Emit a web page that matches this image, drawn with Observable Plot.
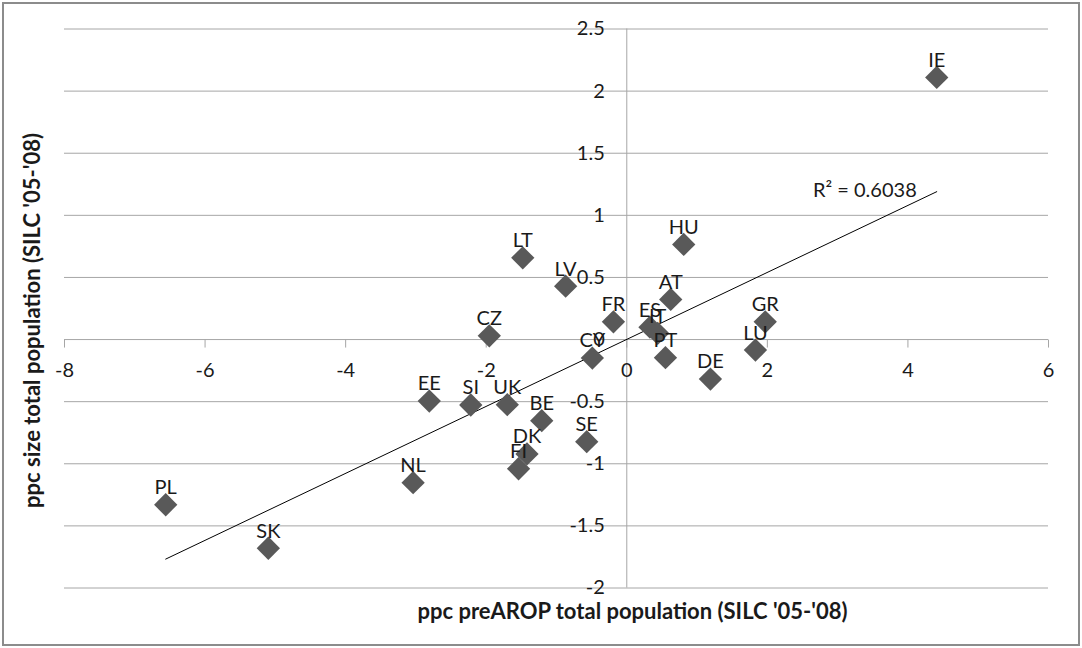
<!DOCTYPE html>
<html>
<head>
<meta charset="utf-8">
<script src="https://cdn.jsdelivr.net/npm/d3@7"></script>
<script src="https://cdn.jsdelivr.net/npm/@observablehq/plot@0.6"></script>
<style>
  html, body { margin: 0; padding: 0; background: #fff; }
  #chart svg { display: block; }
</style>
</head>
<body>
<div id="chart"></div>
<script>
const countries = ["IE","HU","LT","LV","AT","FR","CZ","ES","IT","GR","LU","PT","DE","CY","EE","SI","UK","BE","SE","DK","FI","NL","PL","SK"];
const xValues = [4.41, 0.81, -1.48, -0.87, 0.625, -0.19, -1.956, 0.33, 0.44, 1.97, 1.83, 0.55, 1.19, -0.49, -2.81, -2.22, -1.70, -1.21, -0.57, -1.42, -1.54, -3.04, -6.56, -5.10];
const yValues = [2.11, 0.766, 0.658, 0.43, 0.323, 0.143, 0.03, 0.10, 0.05, 0.143, -0.085, -0.146, -0.318, -0.149, -0.495, -0.527, -0.524, -0.653, -0.822, -0.921, -1.04, -1.152, -1.33, -1.68];
const xTicks = [-8, -6, -4, -2, 0, 2, 4, 6];
const yTicks = [-2, -1.5, -1, -0.5, 0, 0.5, 1, 1.5, 2, 2.5];
const xTitle = "ppc preAROP total population (SILC '05-'08)";
const yTitle = "ppc size total population (SILC '05-'08)";
const r2Label = "R² = 0.6038";

const data = countries.map((c, i) => ({c, x: xValues[i], y: yValues[i]}));

// least squares fit (for label placement)
const mx = d3.mean(data, d => d.x), my = d3.mean(data, d => d.y);
const slope = d3.sum(data, d => (d.x - mx) * (d.y - my)) / d3.sum(data, d => (d.x - mx) ** 2);
const intercept = my - slope * mx;
const xEnd = d3.max(data, d => d.x);
const labelPos = [{x: xEnd, y: intercept + slope * xEnd, t: r2Label}];

const tickSymbol = {draw(ctx) { ctx.moveTo(0, 0); ctx.lineTo(0, 8); }};
const gridColor = "#a6a6a6";
const textColor = "#1a1a1a";
const font = "Lato, Carlito, Calibri, sans-serif";
const fs = 20;

const chart = Plot.plot({
  width: 1082,
  height: 648,
  marginLeft: 64,
  marginRight: 34,
  marginTop: 28.5,
  marginBottom: 60.5,
  x: {domain: [d3.min(xTicks), d3.max(xTicks)], axis: null},
  y: {domain: [d3.min(yTicks), d3.max(yTicks)], axis: null},
  style: {fontFamily: font, background: "#fff", outline: "2px solid #8c8c8c", outlineOffset: "-4px"},
  marks: [
    Plot.ruleY(yTicks, {y: d => d, x1: d3.min(xTicks), x2: d3.max(xTicks), stroke: gridColor, strokeWidth: 1}),
    Plot.ruleX([0], {x: d => d, y1: d3.min(yTicks), y2: d3.max(yTicks), stroke: gridColor, strokeWidth: 1}),
    Plot.dot(xTicks, {x: d => d, y: 0, symbol: tickSymbol, fill: "none", stroke: gridColor, strokeWidth: 1}),
    Plot.text(xTicks, {x: d => d, y: 0, dy: 31, text: d => String(d), fontSize: fs, fill: textColor}),
    Plot.text(yTicks, {x: 0, y: d => d, dx: -22, textAnchor: "end", text: d => String(d), fontSize: fs, fill: textColor}),
    Plot.linearRegressionY(data, {x: "x", y: "y", stroke: "#000", strokeWidth: 1, ci: 0}),
    Plot.dot(data, {x: "x", y: "y", symbol: d3.symbolDiamond2, r: 10.5, fill: "#595959", stroke: "none"}),
    Plot.text(data, {x: "x", y: "y", text: "c", dy: -17, fontSize: fs, fill: textColor}),
    Plot.text(labelPos, {x: "x", y: "y", text: "t", dx: -20, dy: -1, textAnchor: "end", fontSize: fs, fill: textColor}),
    Plot.text([xTitle], {frameAnchor: "bottom", text: d => d, textAnchor: "middle", lineAnchor: "middle", dx: 76, dy: 24, fontSize: 22, fontWeight: "bold", fill: textColor}),
    Plot.text([yTitle], {frameAnchor: "left", text: d => d, textAnchor: "middle", lineAnchor: "middle", dx: -32, dy: 12, rotate: -90, fontSize: 22, fontWeight: "bold", fill: textColor})
  ]
});
document.getElementById("chart").append(chart);
</script>
</body>
</html>
